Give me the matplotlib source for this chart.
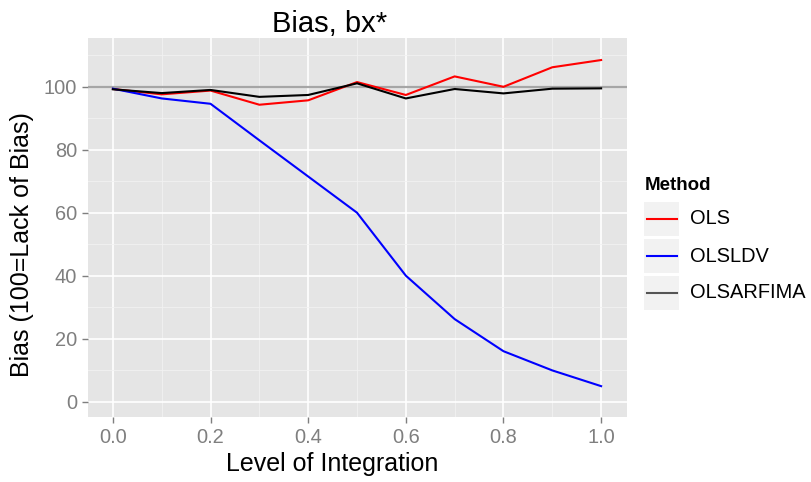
import numpy as np
import matplotlib
matplotlib.use('Agg')
import matplotlib.pyplot as plt
from matplotlib.patches import Rectangle
from matplotlib.lines import Line2D

plt.rcParams['font.family'] = ['Liberation Sans', 'DejaVu Sans']

# data
level = [0.0, 0.1, 0.2, 0.3, 0.4, 0.5, 0.6, 0.7, 0.8, 0.9, 1.0]
ols = [99.3, 97.6, 98.8, 94.3, 95.7, 101.5, 97.4, 103.3, 100.0, 106.2, 108.5]
olsldv = [99.4, 96.3, 94.6, 83.0, 71.5, 60.0, 40.0, 26.2, 16.0, 9.9, 4.9]
olsarfima = [99.2, 98.0, 99.0, 96.8, 97.4, 101.1, 96.3, 99.3, 97.9, 99.4, 99.5]
methods = ['OLS', 'OLSLDV', 'OLSARFIMA']
colors = ['#ff0000', '#0000ff', '#000000']
key_colors = ['#ff0000', '#0000ff', '#555555']
ref_value = 100
xticks = [0.0, 0.2, 0.4, 0.6, 0.8, 1.0]
yticks = [0, 20, 40, 60, 80, 100]

W, H = 811, 482
fig = plt.figure(figsize=(W / 100, H / 100), dpi=100)
ax = fig.add_axes([88 / W, 1 - 417 / H, (627 - 88) / W, (417 - 38) / H])

ax.set_facecolor('#e5e5e5')
for s in ax.spines.values():
    s.set_visible(False)

# grid
ax.set_xticks(xticks)
ax.set_yticks(yticks)
ax.set_xticks([0.1, 0.3, 0.5, 0.7, 0.9], minor=True)
ax.set_yticks([10, 30, 50, 70, 90, 110], minor=True)
ax.grid(which='major', color='white', linewidth=1.2)
ax.grid(which='minor', color='#f2f2f2', linewidth=0.6)
ax.set_axisbelow(True)
ax.tick_params(which='minor', length=0)
ax.tick_params(which='major', length=4, width=1.0, color='#7f7f7f',
               labelcolor='#7f7f7f', labelsize=14.4, pad=4)
ax.set_xticklabels(['%.1f' % v for v in xticks])

ax.axhline(ref_value, color='#a6a6a6', linewidth=1.6, zorder=2)
series = [ols, olsldv, olsarfima]
for vals, c in zip(series, colors):
    ax.plot(level, vals, color=c, linewidth=1.5, zorder=3)

ax.set_xlim(-0.051, 1.053)
ax.set_ylim(-4.9, 115.5)

fig.text(330 / W, 1 - 32 / H, 'Bias, bx*', fontsize=21, ha='center', va='baseline')
ax.set_xlabel('Level of Integration', fontsize=18)
ax.xaxis.set_label_coords((332 - 88) / 539, (417 - 452) / 379)
ax.set_ylabel('Bias (100=Lack of Bias)', fontsize=18)
ax.yaxis.set_label_coords((34 - 88) / 539, (417 - 245) / 379)

# legend drawn by hand in ggplot style
fig.text(645 / W, 1 - 185 / H, 'Method', fontsize=13.5, fontweight='bold',
         va='center', ha='left')
key_tops = [202, 239, 276]
for top, name, kc in zip(key_tops, methods, key_colors):
    fig.patches.append(Rectangle((644 / W, 1 - (top + 34) / H), 35 / W, 34 / H,
                                 transform=fig.transFigure, facecolor='#f2f2f2',
                                 edgecolor='none'))
    yc = 1 - (top + 17) / H
    fig.lines.append(Line2D([647 / W, 677 / W], [yc, yc], transform=fig.transFigure,
                            color=kc, linewidth=1.5))
    fig.text(690 / W, yc, name, fontsize=14.4, va='center', ha='left')

fig.savefig('out.png', dpi=100)
